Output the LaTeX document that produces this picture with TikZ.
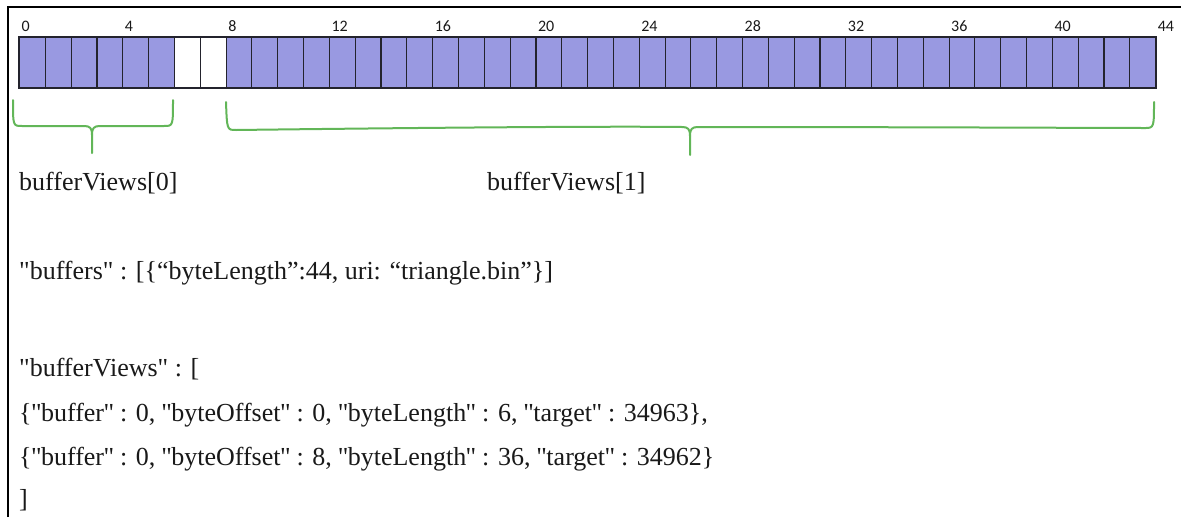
\documentclass[tikz,border=0pt]{standalone}
\usepackage{fontspec}
\newfontfamily\serifface{Liberation Serif}
\newfontfamily\numface{Carlito}
\definecolor{cellfill}{RGB}{153,153,225}
\definecolor{cellline}{RGB}{35,35,45}
\definecolor{bracegreen}{RGB}{98,182,88}
% tighter straight double quote for the JSON lines
\newcommand\dq{\kern-0.6pt"\kern-0.6pt}
\tikzset{
  cellbox/.style={draw=cellline, line width=1.1pt, anchor=north west, inner sep=0pt,
    minimum width=25.82pt, minimum height=50pt},
  numlabel/.style={anchor=base west, inner sep=0pt, font=\numface\fontsize{16}{18}\selectfont, text=black!90},
  codeline/.style={anchor=base west, inner sep=0pt, font=\serifface\fontsize{26}{30}\selectfont, text=black!90},
  bracepath/.style={draw=bracegreen, line width=2pt, line cap=round, line join=round}
}
\begin{document}
\begin{tikzpicture}[x=1pt,y=-1pt]
\useasboundingbox (0,0) rectangle (1181,517);
% page frame (left and top edges)
\draw[line width=2pt] (8,517) -- (8,7) -- (1181,7);

% the 44 bytes of the buffer
\foreach \i in {0,...,43}{
  \ifnum\i=6 \def\cf{white}\else\ifnum\i=7 \def\cf{white}\else\def\cf{cellfill}\fi\fi
  \node[cellbox, fill=\cf] (cell\i) at ({19+25.82*\i},37) {};
}
\draw[cellline, line width=1.6pt] (cell0.north west) rectangle (cell43.south east);

% byte offsets
\foreach \k in {0,4,...,44}{
  \node[numlabel] (n\k) at ({19+25.82*\k+2.5},31) {\k};
}

% brace under bufferViews[0]
\draw[bracepath] (13,100) .. controls (13,126) and (13,126) .. (22,126) -- (84,126)
  .. controls (90,126) and (92,128) .. (92,135) -- (92,153);
\draw[bracepath] (92,135) .. controls (92,128) and (94,126) .. (100,126) -- (164,126)
  .. controls (173,126) and (173,126) .. (173,100);

% brace under bufferViews[1]
\draw[bracepath] (226,102) .. controls (227,130) and (227,130) .. (236,130)
  .. controls (400,128) and (600,126) .. (682,127)
  .. controls (688,127) and (690,129) .. (690,136) -- (690,155);
\draw[bracepath] (690,136) .. controls (690,129) and (692,127) .. (698,127)
  .. controls (900,127) and (1100,128) .. (1146,128)
  .. controls (1154,128) and (1154,126) .. (1154,102);

% labels and JSON text
\node[codeline] (bv0) at (19,190) {bufferViews[0]};
\node[codeline] (bv1) at (487,190) {bufferViews[1]};
\node[codeline] (buf) at (19,279) {"buffers" : [\{“byteLength”:44, uri: “triangle.bin”\}]};
\node[codeline] (bvh) at (19,376) {"bufferViews" : [};
\node[codeline] (bva) at (19,421) {\{\dq buffer\dq{} : 0, \dq byteOffset\dq{} : 0, \dq byteLength\dq{} : 6, \dq target\dq{} : 34963\},};
\node[codeline] (bvb) at (19,465) {\{\dq buffer\dq{} : 0, \dq byteOffset\dq{} : 8, \dq byteLength\dq{} : 36, \dq target\dq{} : 34962\}};
\node[codeline] (bve) at (19,507) {]};
\end{tikzpicture}
\end{document}
